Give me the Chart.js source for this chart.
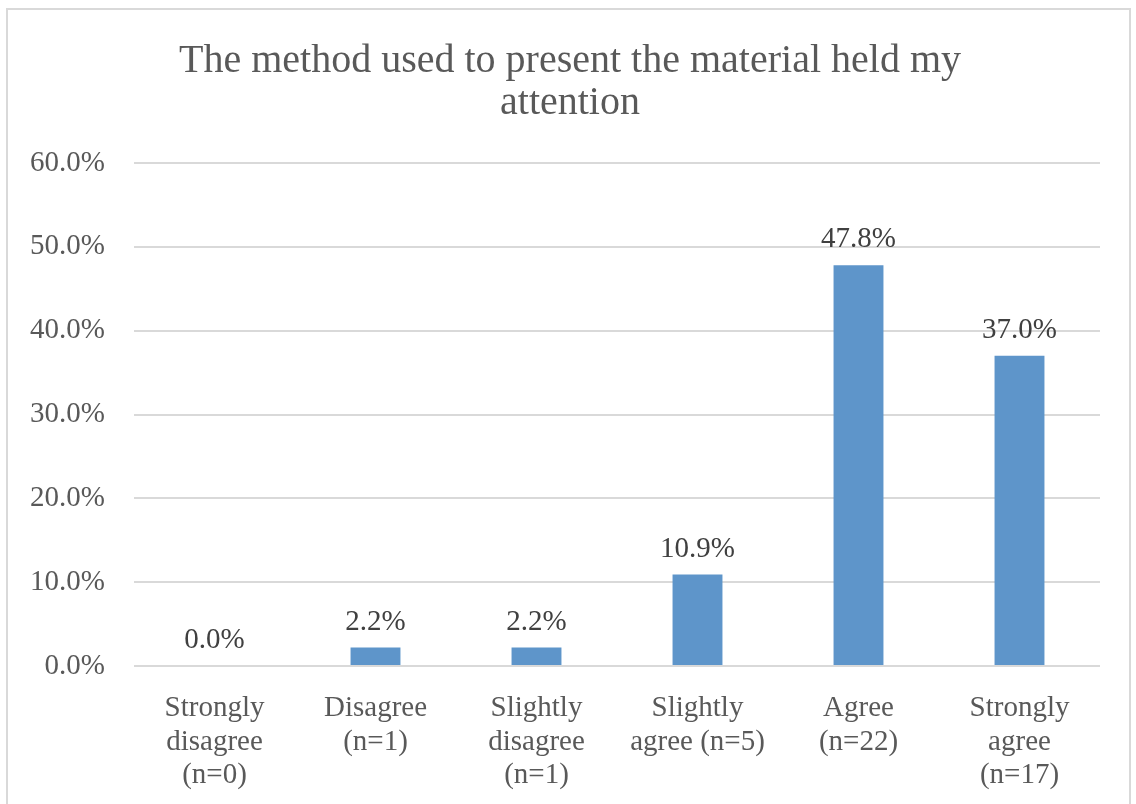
<!DOCTYPE html>
<html>
<head>
<meta charset="utf-8">
<script src="https://cdn.jsdelivr.net/npm/chart.js@4"></script>
<style>
  body { margin: 0; background: #fff; }
  #frame { position: absolute; left: 6px; top: 8px; width: 1125px; height: 820px; border: 2px solid #d9d9d9; box-sizing: border-box; }
  #wrap { position: absolute; left: 0; top: 0; width: 1136px; height: 804px; }
</style>
</head>
<body>
<div id="frame"></div>
<div id="wrap"><canvas id="bar"></canvas></div>
<script>
const chartTitle = ['The method used to present the material held my', 'attention'];
const categories = [
    ['Strongly', 'disagree', '(n=0)'],
    ['Disagree', '(n=1)'],
    ['Slightly', 'disagree', '(n=1)'],
    ['Slightly', 'agree (n=5)'],
    ['Agree', '(n=22)'],
    ['Strongly', 'agree', '(n=17)']
];
const percents = [0.0, 2.2, 2.2, 10.9, 47.8, 37.0];
const yTicks = [0, 10, 20, 30, 40, 50, 60];

const fontFamily = "'Liberation Serif', 'DejaVu Serif', serif";

// value labels above the bars
const valueLabels = {
    id: 'valueLabels',
    afterDatasetsDraw(chart) {
        const ctx = chart.ctx;
        const meta = chart.getDatasetMeta(0);
        ctx.save();
        ctx.font = '29px ' + fontFamily;
        ctx.fillStyle = '#404040';
        ctx.textAlign = 'center';
        ctx.textBaseline = 'bottom';
        meta.data.forEach((bar, i) => {
            ctx.fillText(percents[i].toFixed(1) + '%', bar.x, bar.y - 11);
        });
        ctx.restore();
    }
};

// title is centred on the whole frame, not on the padded layout box
const frameTitle = {
    id: 'frameTitle',
    afterDraw(chart) {
        const ctx = chart.ctx;
        ctx.save();
        ctx.font = '40px ' + fontFamily;
        ctx.fillStyle = '#595959';
        ctx.textAlign = 'center';
        ctx.textBaseline = 'middle';
        chartTitle.forEach((line, i) => {
            ctx.fillText(line, 570, 61 + i * 42);
        });
        ctx.restore();
    }
};

const bar = document.getElementById('bar');

new Chart(bar, {
    type: 'bar',
    data: {
        labels: categories,
        datasets: [{
            data: percents,
            backgroundColor: '#5e95ca',
            categoryPercentage: 1,
            barPercentage: 0.31
        }]
    },
    options: {
        responsive: true,
        maintainAspectRatio: false,
        animation: false,
        layout: { padding: { left: 0, right: 36, top: 163, bottom: 0 } },
        plugins: {
            legend: { display: false },
            tooltip: { enabled: false },
            title: { display: false }
        },
        scales: {
            x: {
                grid: { display: false },
                border: { display: false },
                ticks: {
                    color: '#595959',
                    font: { family: fontFamily, size: 29, lineHeight: 1.17 },
                    padding: 17,
                    maxRotation: 0,
                    autoSkip: false
                },
                afterFit(scale) { scale.height = 138; }
            },
            y: {
                min: 0,
                max: 60,
                afterBuildTicks(scale) { scale.ticks = yTicks.map(v => ({ value: v })); },
                grid: { color: '#d9d9d9', lineWidth: 2, drawTicks: false },
                border: { display: false },
                ticks: {
                    color: '#595959',
                    font: { family: fontFamily, size: 29 },
                    padding: 29,
                    callback: v => v.toFixed(1) + '%'
                },
                afterFit(scale) { scale.width = 134; }
            }
        }
    },
    plugins: [valueLabels, frameTitle]
});
</script>
</body>
</html>
